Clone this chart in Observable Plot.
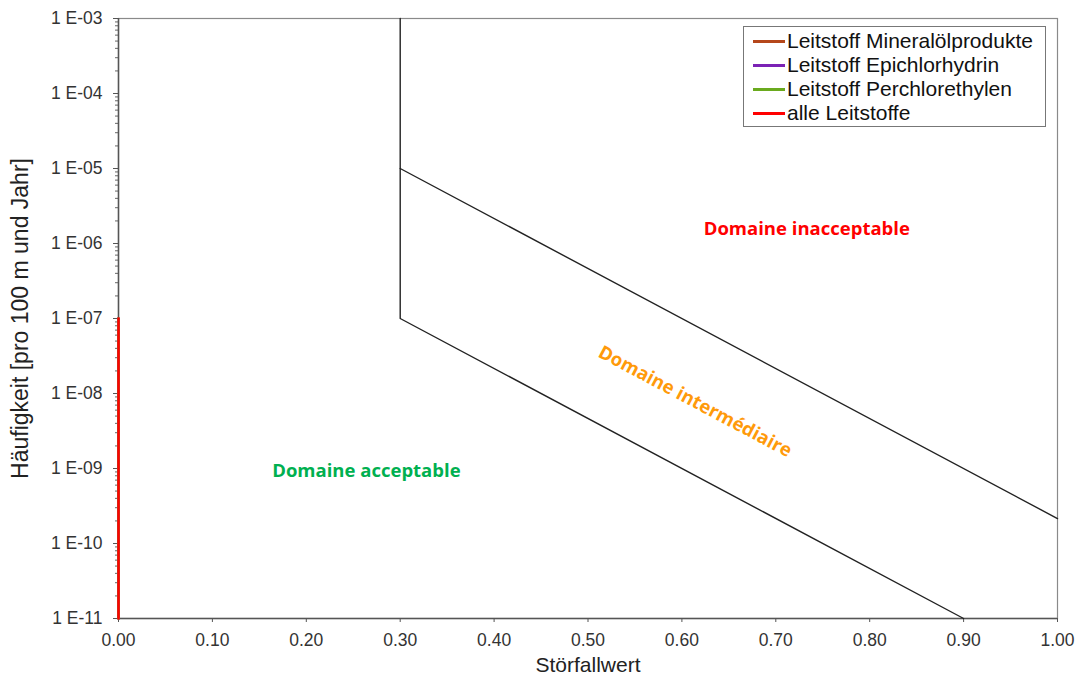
<!DOCTYPE html>
<html>
<head>
<meta charset="utf-8">
<script src="https://cdn.jsdelivr.net/npm/d3@7"></script>
<script src="https://cdn.jsdelivr.net/npm/@observablehq/plot@0.6"></script>
<style>
  html, body { margin: 0; padding: 0; background: #fff; }
  #wrap { position: relative; width: 1080px; height: 684px; }
  #legend {
    position: absolute; left: 743px; top: 26px; width: 303px; height: 101px;
    border: 1px solid #777; background: #fff; box-sizing: border-box;
    font-family: "Liberation Sans", Arial, sans-serif; font-size: 21px; color: #111;
    padding-top: 2px;
  }
  .row { display: flex; align-items: center; height: 24px; }
  .sw { width: 32px; height: 3px; margin-left: 9px; margin-right: 2px; }
</style>
</head>
<body>
<div id="wrap"></div>
<script>
// ---- data ----
const seriesNames = ["Leitstoff Mineralölprodukte", "Leitstoff Epichlorhydrin", "Leitstoff Perchlorethylen", "alle Leitstoffe"];
const seriesColors = ["#b5471b", "#7b22b5", "#6aaa1e", "#ff0000"];
const seriesX = [[0, 0], [0, 0], [0, 0], [0, 0]];
const seriesY = [[1e-11, 1e-7], [1e-11, 1e-7], [1e-11, 1e-7], [1e-11, 1e-7]];

const upperX = [0.3, 0.3, 1.0];
const upperY = [1e-3, 1e-5, 2.15e-10];
const lowerX = [0.3, 0.3, 0.9];
const lowerY = [1e-5, 1e-7, 1e-11];

const zoneLabels = ["Domaine inacceptable", "Domaine intermédiaire", "Domaine acceptable"];
const zoneX = [0.733, 0.614, 0.264];
const zoneY = [1.58e-6, 7.8e-9, 9.1e-10];
const zoneColors = ["#ff0000", "#ff9a0a", "#00b050"];
const zoneRotate = [0, 28, 0];

const xTicks = [0, 0.1, 0.2, 0.3, 0.4, 0.5, 0.6, 0.7, 0.8, 0.9, 1.0];
const yTicks = [1e-11, 1e-10, 1e-9, 1e-8, 1e-7, 1e-6, 1e-5, 1e-4, 1e-3];
const yMinor = [];
for (const d of yTicks.slice(0, -1)) for (let m = 2; m <= 9; m++) yMinor.push(m * d);

const fmtY = v => {
  const e = Math.round(Math.log10(v));
  return "1 E-" + String(-e).padStart(2, "0");
};

// ---- tables ----
const seriesRows = seriesNames.flatMap((name, i) =>
  seriesX[i].map((x, j) => ({series: name, x, y: seriesY[i][j], color: seriesColors[i]})));
const upper = upperX.map((x, i) => ({x, y: upperY[i]}));
const lower = lowerX.map((x, i) => ({x, y: lowerY[i]}));
const zones = zoneLabels.map((t, i) => ({t, x: zoneX[i], y: zoneY[i], c: zoneColors[i], r: zoneRotate[i]}));

const chart = Plot.plot({
  width: 1080,
  height: 684,
  marginTop: 18,
  marginRight: 23,
  marginBottom: 66,
  marginLeft: 118,
  style: {fontFamily: "'Liberation Sans', Arial, sans-serif", fontSize: "17.5px", color: "#333", background: "#fff"},
  x: {domain: [0, 1]},
  y: {type: "log", domain: [1e-11, 1e-3]},
  marks: [
    Plot.frame({stroke: "#8a8a8a", strokeWidth: 1.2}),
    Plot.axisY({ticks: yMinor, tickSize: 3, tickFormat: () => "", stroke: "#666", label: null}),
    Plot.axisY({ticks: yTicks, tickSize: 5, tickPadding: 11, tickFormat: fmtY, stroke: "#555", fill: "#333",
      fontSize: 17.5, label: "Häufigkeit [pro 100 m und Jahr]", labelAnchor: "center", labelOffset: 107, labelArrow: "none"}),
    Plot.axisX({ticks: xTicks, tickSize: 4, tickPadding: 11, tickFormat: d3.format(".2f"), stroke: "#555", fill: "#333",
      fontSize: 17.5, label: "Störfallwert", labelAnchor: "center", labelOffset: 53, labelArrow: "none"}),
    Plot.ruleX([0], {stroke: "#555", strokeWidth: 1.5}),
    Plot.ruleY([1e-11], {stroke: "#555", strokeWidth: 1.5}),
    Plot.line(upper, {x: "x", y: "y", stroke: "#222", strokeWidth: 1.4}),
    Plot.line(lower, {x: "x", y: "y", stroke: "#222", strokeWidth: 1.4}),
    Plot.line(seriesRows, {x: "x", y: "y", z: "series", stroke: "color", strokeWidth: 2.5}),
    Plot.text(zones, {x: "x", y: "y", text: "t", fill: "c", rotate: "r",
      fontFamily: "'Open Sans', sans-serif", fontWeight: "bold", fontSize: 18.5})
  ]
});

const wrap = document.getElementById("wrap");
wrap.appendChild(chart);
chart.querySelectorAll("[aria-label='y-axis label'] text").forEach(t => {
  t.setAttribute("font-size", "23");
  t.style.fontSize = "23px";
  t.setAttribute("fill", "#222");
});
chart.querySelectorAll("[aria-label='x-axis label'] text").forEach(t => {
  t.setAttribute("font-size", "21");
  t.style.fontSize = "21px";
  t.setAttribute("fill", "#222");
});

const legend = document.createElement("div");
legend.id = "legend";
seriesNames.forEach((name, i) => {
  const row = document.createElement("div");
  row.className = "row";
  const sw = document.createElement("div");
  sw.className = "sw";
  sw.style.background = seriesColors[i];
  const tx = document.createElement("span");
  tx.textContent = name;
  row.appendChild(sw);
  row.appendChild(tx);
  legend.appendChild(row);
});
wrap.appendChild(legend);
</script>
</body>
</html>
